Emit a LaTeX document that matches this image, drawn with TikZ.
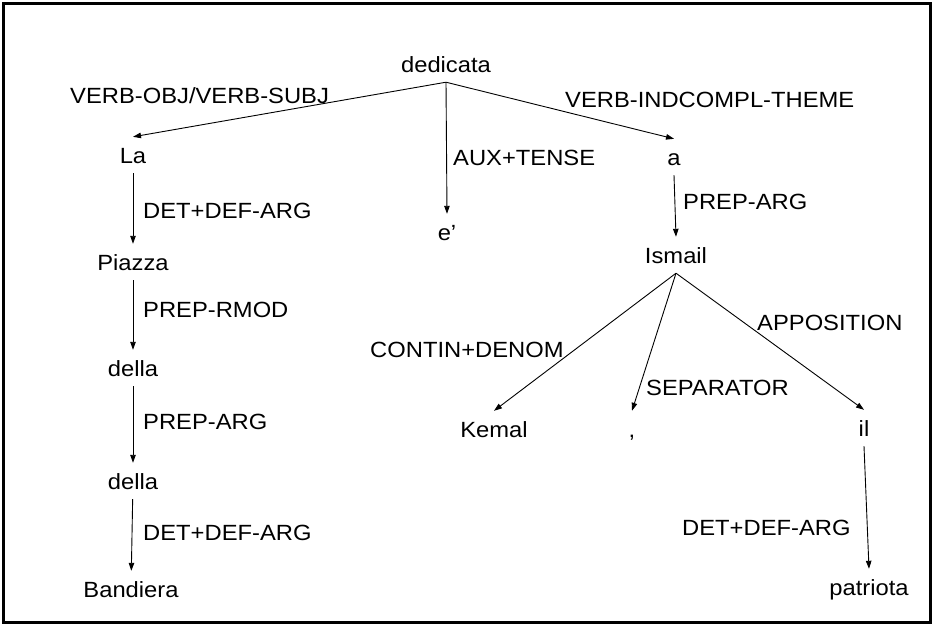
\documentclass[tikz,border=0pt]{standalone}
\usepackage{fontspec}
\setmainfont{Liberation Sans}[FakeStretch=1.08]
\usetikzlibrary{arrows.meta}

\begin{document}
\begin{tikzpicture}[
  x=1pt, y=-1pt,
  font=\fontsize{22}{26}\selectfont,
  word/.style={inner xsep=2pt, inner ysep=10pt, text height=16pt,
    text depth=0pt, anchor=base},
  rel/.style={inner sep=0pt, anchor=base west},
  dep/.style={-{Triangle[length=8pt,width=5.5pt]}, line width=0.9pt, draw=black}
]
\useasboundingbox (0,0) rectangle (934,625);
\draw[line width=3pt] (3,3) rectangle (930,622);
% words of the sentence
\node[word] (ded) at (446,72) {dedicata};
\node[word] (la) at (133,163) {La};
\node[word] (e) at (447,240) {e’};
\node[word] (a) at (674,165) {a};
\node[word] (piazza) at (133,270) {Piazza};
\node[word] (ismail) at (676,263) {Ismail};
\node[word] (della1) at (133,376) {della};
\node[word] (kemal) at (494,437) {Kemal};
\node[word] (comma) at (632,437) {,};
\node[word] (il) at (864,436) {il};
\node[word] (della2) at (133,489) {della};
\node[word] (bandiera) at (131,597) {Bandiera};
\node[word] (patriota) at (869,595) {patriota};
% relation labels
\node[rel] (lobj) at (70,103) {VERB-OBJ/VERB-SUBJ};
\node[rel] (lind) at (565,107) {VERB-INDCOMPL-THEME};
\node[rel] (laux) at (453,165) {AUX+TENSE};
\node[rel] (ldet1) at (143,218) {DET+DEF-ARG};
\node[rel] (lprep1) at (683,209) {PREP-ARG};
\node[rel] (lrmod) at (143,317) {PREP-RMOD};
\node[rel] (lappo) at (757,330) {APPOSITION};
\node[rel] (lcont) at (370,357) {CONTIN+DENOM};
\node[rel] (lsep) at (646,395) {SEPARATOR};
\node[rel] (lprep2) at (143,429) {PREP-ARG};
\node[rel] (ldet3) at (682,535) {DET+DEF-ARG};
\node[rel] (ldet2) at (143,540) {DET+DEF-ARG};
% dependencies
\draw[dep] (ded.south) -- (la.north);
\draw[dep] (ded.south) -- (e.north);
\draw[dep] (ded.south) -- (a.north);
\draw[dep] (la) -- (piazza);
\draw[dep] (piazza) -- (della1);
\draw[dep] (della1) -- (della2);
\draw[dep] (della2) -- (bandiera);
\draw[dep] (a.south) -- (ismail.north);
\draw[dep] (ismail.south) -- (kemal.north);
\draw[dep] (ismail.south) -- (comma.north);
\draw[dep] (ismail.south) -- (il.north);
\draw[dep] (il.south) -- (patriota.north);
\end{tikzpicture}
\end{document}
